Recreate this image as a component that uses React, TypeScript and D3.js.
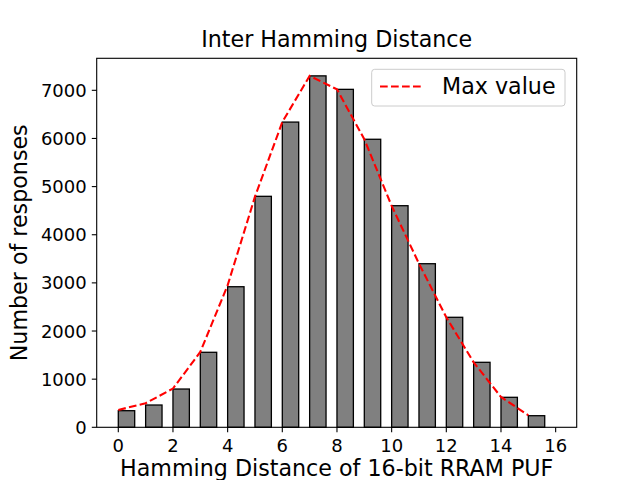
import { useEffect, useRef } from 'react';
import * as d3 from 'd3';

// Hamming distance bins (bars drawn edge-aligned at each integer)
const distances = d3.range(0, 16);
const responses = [345, 463, 795, 1558, 2920, 4798, 6340, 7300, 7020, 5983, 4603, 3398, 2285, 1350, 623, 241];
const maxValue = [360, 500, 805, 1565, 2950, 4790, 6340, 7300, 7020, 5983, 4600, 3400, 2285, 1350, 630, 250];
const xTicks = [0, 2, 4, 6, 8, 10, 12, 14, 16];
const yTicks = [0, 1000, 2000, 3000, 4000, 5000, 6000, 7000];

const FONT = "'DejaVu Sans', sans-serif";

const App = () => {
  const svgRef = useRef(null);

  useEffect(() => {
    const svg = d3.select(svgRef.current);
    svg.selectAll('*').remove();

    const margin = { left: 96.7, right: 576.7, top: 58.3, bottom: 427.3 };

    const x = d3.scaleLinear().domain([-0.79, 16.77]).range([margin.left, margin.right]);
    const y = d3.scaleLinear().domain([0, 7665]).range([margin.bottom, margin.top]);

    svg.append('rect').attr('width', 640).attr('height', 480).attr('fill', '#fff');

    // barras
    svg.append('g')
      .selectAll('rect')
      .data(distances)
      .join('rect')
      .attr('x', d => x(d))
      .attr('y', (d, i) => y(responses[i]))
      .attr('width', d => x(d + 0.6) - x(d))
      .attr('height', (d, i) => y(0) - y(responses[i]))
      .attr('fill', '#808080')
      .attr('stroke', '#000')
      .attr('stroke-width', 1.3);

    // linea de valor maximo
    const line = d3.line<number>()
      .x(d => x(d))
      .y((d, i) => y(maxValue[i]));
    svg.append('path')
      .attr('d', line(distances))
      .attr('fill', 'none')
      .attr('stroke', 'red')
      .attr('stroke-width', 2.08)
      .attr('stroke-dasharray', '7.7,3.3');

    // ejes
    svg.append('rect')
      .attr('x', margin.left).attr('y', margin.top)
      .attr('width', margin.right - margin.left)
      .attr('height', margin.bottom - margin.top)
      .attr('fill', 'none').attr('stroke', '#000').attr('stroke-width', 1.1);

    const xg = svg.append('g');
    xTicks.forEach(t => {
      xg.append('line')
        .attr('x1', x(t)).attr('x2', x(t))
        .attr('y1', margin.bottom).attr('y2', margin.bottom + 4.9)
        .attr('stroke', '#000').attr('stroke-width', 1.1);
      xg.append('text')
        .attr('x', x(t)).attr('y', 451.6)
        .attr('text-anchor', 'middle')
        .attr('font-family', FONT).attr('font-size', 18)
        .text(t);
    });

    const yg = svg.append('g');
    yTicks.forEach(t => {
      yg.append('line')
        .attr('x1', margin.left - 4.9).attr('x2', margin.left)
        .attr('y1', y(t)).attr('y2', y(t))
        .attr('stroke', '#000').attr('stroke-width', 1.1);
      yg.append('text')
        .attr('x', margin.left - 10).attr('y', y(t) + 6.6)
        .attr('text-anchor', 'end')
        .attr('font-family', FONT).attr('font-size', 18)
        .text(t);
    });

    svg.append('text')
      .attr('x', (margin.left + margin.right) / 2).attr('y', 47.3)
      .attr('text-anchor', 'middle')
      .attr('font-family', FONT).attr('font-size', 22.2)
      .text('Inter Hamming Distance');

    svg.append('text')
      .attr('x', (margin.left + margin.right) / 2).attr('y', 476)
      .attr('text-anchor', 'middle')
      .attr('font-family', FONT).attr('font-size', 22.2)
      .text('Hamming Distance of 16-bit RRAM PUF');

    svg.append('text')
      .attr('transform', `translate(26.5,${(margin.top + margin.bottom) / 2}) rotate(-90)`)
      .attr('text-anchor', 'middle')
      .attr('font-family', FONT).attr('font-size', 22.2)
      .text('Number of responses');

    // leyenda
    const lg = svg.append('g');
    lg.append('rect')
      .attr('x', 371.7).attr('y', 69.3)
      .attr('width', 193.3).attr('height', 36.7)
      .attr('rx', 3).attr('ry', 3)
      .attr('fill', '#fff').attr('fill-opacity', 0.8)
      .attr('stroke', '#cccccc').attr('stroke-width', 1);
    lg.append('line')
      .attr('x1', 380).attr('x2', 421)
      .attr('y1', 86.5).attr('y2', 86.5)
      .attr('stroke', 'red').attr('stroke-width', 2.08)
      .attr('stroke-dasharray', '7.7,3.3');
    lg.append('text')
      .attr('x', 442).attr('y', 94)
      .attr('font-family', FONT).attr('font-size', 22.2)
      .text('Max value');
  }, []);

  return (
    <svg
      ref={svgRef}
      width={640}
      height={480}
      style={{ position: 'absolute', left: 0, top: 0 }}
    />
  );
};

export default App;
